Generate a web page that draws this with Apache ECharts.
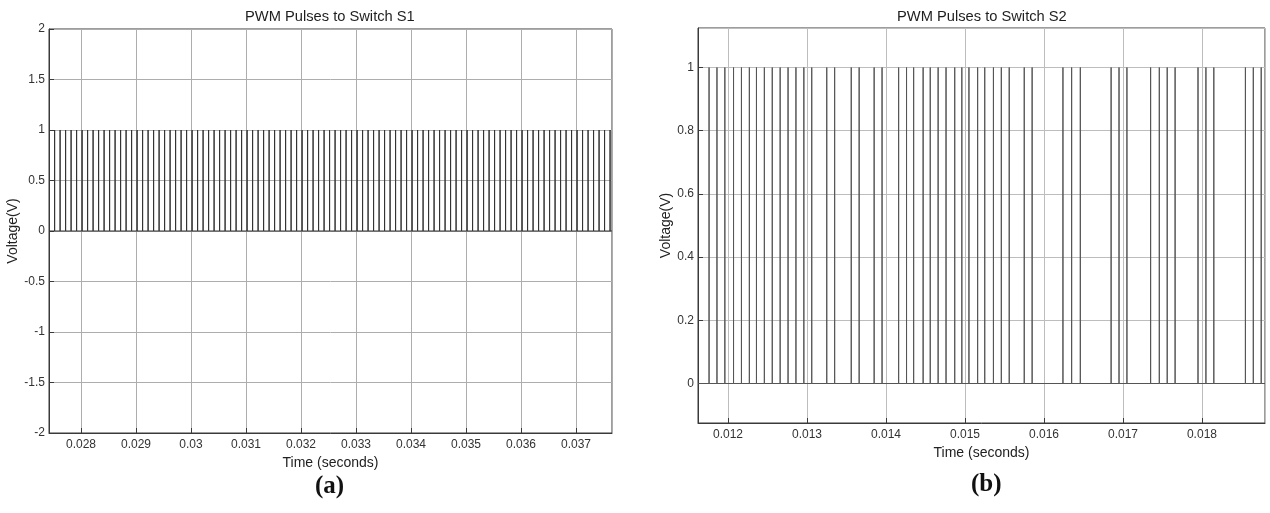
<!DOCTYPE html>
<html>
<head>
<meta charset="utf-8">
<script src="https://cdn.jsdelivr.net/npm/echarts@6/dist/echarts.min.js"></script>
<style>
  html, body { margin: 0; padding: 0; background: #ffffff; }
  #chart { width: 1270px; height: 513px; }
</style>
</head>
<body>
<div id="chart"></div>
<script>
// Switching instants (s) of the gate pulses sent to switch S1
const s1PulseTimes = [
  0.02752, 0.02762, 0.02772, 0.02782, 0.02792, 0.02802, 0.02812, 0.02822, 0.02832, 0.02842,
  0.02852, 0.02862, 0.02872, 0.02882, 0.02892, 0.02902, 0.02912, 0.02922, 0.02932, 0.02942,
  0.02952, 0.02962, 0.02972, 0.02982, 0.02992, 0.03002, 0.03012, 0.03022, 0.03032, 0.03042,
  0.03052, 0.03062, 0.03072, 0.03082, 0.03092, 0.03102, 0.03112, 0.03122, 0.03132, 0.03142,
  0.03152, 0.03162, 0.03172, 0.03182, 0.03192, 0.03202, 0.03212, 0.03222, 0.03232, 0.03242,
  0.03252, 0.03262, 0.03272, 0.03282, 0.03292, 0.03302, 0.03312, 0.03322, 0.03332, 0.03342,
  0.03352, 0.03362, 0.03372, 0.03382, 0.03392, 0.03402, 0.03412, 0.03422, 0.03432, 0.03442,
  0.03452, 0.03462, 0.03472, 0.03482, 0.03492, 0.03502, 0.03512, 0.03522, 0.03532, 0.03542,
  0.03552, 0.03562, 0.03572, 0.03582, 0.03592, 0.03602, 0.03612, 0.03622, 0.03632, 0.03642,
  0.03652, 0.03662, 0.03672, 0.03682, 0.03692, 0.03702, 0.03712, 0.03722, 0.03732, 0.03742,
  0.03752, 0.03762
];

// Switching instants (s) of the gate pulses sent to switch S2
const s2PulseTimes = [
  0.01176, 0.01186, 0.01196, 0.01207, 0.01217, 0.01227, 0.01236, 0.01246, 0.01256, 0.01266,
  0.01276, 0.01286, 0.01296, 0.01306, 0.01325, 0.01335, 0.01356, 0.01366, 0.01385, 0.01395,
  0.01416, 0.01426, 0.01435, 0.01447, 0.01456, 0.01466, 0.01476, 0.01487, 0.01496, 0.01505,
  0.01516, 0.01525, 0.01536, 0.01546, 0.01556, 0.01575, 0.01585, 0.01624, 0.01635, 0.01646,
  0.01685, 0.01695, 0.01705, 0.01735, 0.01746, 0.01756, 0.01766, 0.01795, 0.01805, 0.01815,
  0.01855, 0.01865, 0.01875
];

const pulseLevel = 1;          // gate voltage when a pulse is on (V)
const s1TimeRange = [0.027418, 0.037655];
const s2TimeRange = [0.01162, 0.018798];
const s1VoltRange = [-2, 2];
const s2VoltRange = [-0.125, 1.125];

const panelTitles = ['PWM Pulses to Switch S1', 'PWM Pulses to Switch S2'];
const panelTags = ['(a)', '(b)'];
const timeName = 'Time (seconds)';
const voltName = 'Voltage(V)';

// Build the gate waveform: held at 0, with a spike up to the pulse level at each switching instant
function pulseTrain(times, range) {
  const pts = [[range[0], 0]];
  times.forEach(function (t) {
    pts.push([t, 0], [t, pulseLevel], [t, 0]);
  });
  pts.push([range[1], 0]);
  return pts;
}

const FONT = '"Liberation Sans", Arial, Helvetica, sans-serif';
const frameColor = '#3a3a3a';

function trimNum(d) {
  return function (v) { return String(parseFloat(v.toFixed(d))); };
}

function xAxisCfg(idx, range, splits, gap, gridColor) {
  return {
    type: 'value', gridIndex: idx, min: range[0], max: range[1], splitNumber: splits,
    name: timeName, nameLocation: 'middle', nameGap: gap,
    nameTextStyle: { fontFamily: FONT, fontSize: 14, color: '#222' },
    axisLine: { show: true, onZero: false, lineStyle: { color: frameColor, width: 1 } },
    axisTick: { show: true, inside: true, length: 5, lineStyle: { color: frameColor } },
    axisLabel: { margin: 6, fontFamily: FONT, fontSize: 12, color: '#333',
                 showMinLabel: false, showMaxLabel: false, formatter: trimNum(4) },
    splitLine: { show: true, lineStyle: { color: gridColor, width: 1 } }
  };
}

function yAxisCfg(idx, range, extra, gap, gridColor) {
  return Object.assign({
    type: 'value', gridIndex: idx, min: range[0], max: range[1],
    name: voltName, nameLocation: 'middle', nameGap: gap,
    nameTextStyle: { fontFamily: FONT, fontSize: 14, color: '#222' },
    axisLine: { show: true, onZero: false, lineStyle: { color: frameColor, width: 1 } },
    axisTick: { show: true, inside: true, length: 5, lineStyle: { color: frameColor } },
    axisLabel: { margin: 4, fontFamily: FONT, fontSize: 12, color: '#333',
                 showMinLabel: true, showMaxLabel: true, formatter: trimNum(3) },
    splitLine: { show: true, lineStyle: { color: gridColor, width: 1 } }
  }, extra);
}

const chart = echarts.init(document.getElementById('chart'), null, { renderer: 'canvas' });

chart.setOption({
  backgroundColor: '#ffffff',
  animation: false,
  grid: [
    { left: 49, top: 29, width: 563, height: 404, show: true, borderColor: frameColor, borderWidth: 1, backgroundColor: '#ffffff' },
    { left: 698, top: 28, width: 567, height: 395, show: true, borderColor: frameColor, borderWidth: 1, backgroundColor: '#ffffff' }
  ],
  xAxis: [
    xAxisCfg(0, s1TimeRange, 10, 17, '#adadad'),
    xAxisCfg(1, s2TimeRange, 7, 18, '#bdbdbd')
  ],
  yAxis: [
    yAxisCfg(0, s1VoltRange, { interval: 0.5 }, 26, '#adadad'),
    yAxisCfg(1, s2VoltRange, { splitNumber: 6, axisLabel: {
      margin: 4, fontFamily: FONT, fontSize: 12, color: '#333',
      showMinLabel: false, showMaxLabel: false, formatter: trimNum(3) } }, 25, '#bdbdbd')
  ],
  graphic: [
    { type: 'text', left: 330 - 85, top: 9, style: { text: panelTitles[0], font: '14.7px ' + FONT, fill: '#1e1e1e' } },
    { type: 'text', left: 982 - 85, top: 9, style: { text: panelTitles[1], font: '14.7px ' + FONT, fill: '#1e1e1e' } },
    { type: 'text', left: 315, top: 474, style: { text: panelTags[0], font: 'bold 25px "Liberation Serif", "Times New Roman", serif', fill: '#111' } },
    { type: 'text', left: 971, top: 472, style: { text: panelTags[1], font: 'bold 25px "Liberation Serif", "Times New Roman", serif', fill: '#111' } }
  ],
  series: [
    {
      type: 'line', xAxisIndex: 0, yAxisIndex: 0, data: pulseTrain(s1PulseTimes, s1TimeRange),
      symbol: 'none', showSymbol: false, clip: true, z: 3,
      lineStyle: { color: '#333333', width: 1 }
    },
    {
      type: 'line', xAxisIndex: 1, yAxisIndex: 1, data: pulseTrain(s2PulseTimes, s2TimeRange),
      symbol: 'none', showSymbol: false, clip: true, z: 3,
      lineStyle: { color: '#555555', width: 1 }
    }
  ]
});
</script>
</body>
</html>
